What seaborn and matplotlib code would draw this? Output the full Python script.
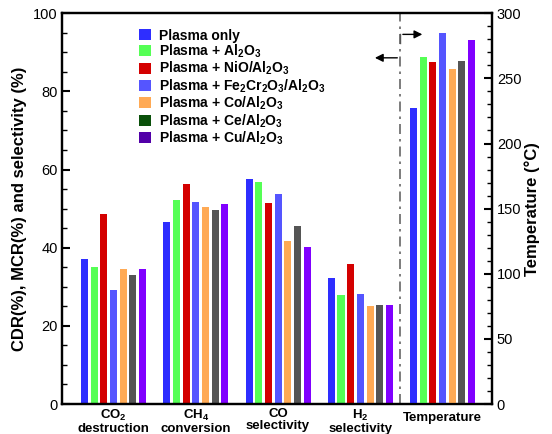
import matplotlib
matplotlib.use("Agg")
import matplotlib.pyplot as plt
from matplotlib.patches import Patch
from matplotlib.ticker import MultipleLocator
import matplotlib.transforms as mtransforms
import seaborn as sns
import pandas as pd

plt.rcParams['font.family'] = ['Liberation Sans', 'DejaVu Sans']
plt.rcParams['mathtext.fontset'] = 'custom'
plt.rcParams['mathtext.rm'] = 'Liberation Sans:bold'
plt.rcParams['mathtext.bf'] = 'Liberation Sans:bold'
plt.rcParams['mathtext.it'] = 'Liberation Sans:bold'
plt.rcParams['mathtext.default'] = 'rm'

groups = ['CO$_2$\ndestruction', 'CH$_4$\nconversion', 'CO\nselectivity',
          'H$_2$\nselectivity', 'Temperature']
catalysts = ['Plasma only', 'Plasma + Al$_2$O$_3$', 'Plasma + NiO/Al$_2$O$_3$',
             'Plasma + Fe$_2$Cr$_2$O$_3$/Al$_2$O$_3$', 'Plasma + Co/Al$_2$O$_3$',
             'Plasma + Ce/Al$_2$O$_3$', 'Plasma + Cu/Al$_2$O$_3$']
bar_colors = ['#2e2eff', '#55ff55', '#d40000', '#5555ff', '#ffaa55', '#555555', '#8000ff']
legend_colors = ['#2e2eff', '#55ff55', '#d40000', '#5555ff', '#ffaa55', '#0a500a', '#5200a8']

co2_destruction = [37.1, 35.1, 48.6, 29.2, 34.6, 33.1, 34.6]
ch4_conversion = [46.6, 52.3, 56.3, 51.6, 50.3, 49.6, 51.1]
co_selectivity = [57.6, 56.8, 51.5, 53.8, 41.6, 45.6, 40.3]
h2_selectivity = [32.3, 28.0, 35.9, 28.2, 25.2, 25.4, 25.4]
temperature = [227, 266.7, 262.9, 285, 257.5, 263.6, 279.7]

rows = []
for g, vals in zip(groups[:4], [co2_destruction, ch4_conversion, co_selectivity, h2_selectivity]):
    for c, v in zip(catalysts, vals):
        rows.append({'group': g, 'catalyst': c, 'value': v})
df_left = pd.DataFrame(rows)
df_temp = pd.DataFrame({'group': groups[4], 'catalyst': catalysts, 'value': temperature})

palette = dict(zip(catalysts, bar_colors))

fig = plt.figure(figsize=(5.52, 4.34), dpi=100)
ax = fig.add_axes([0.1132, 0.0691, 0.7781, 0.9003])
ax2 = ax.twinx()

common = dict(x='group', y='value', hue='catalyst', order=groups, hue_order=catalysts,
              palette=palette, width=0.823, gap=0.276, legend=False, saturation=1,
              linewidth=0, errorbar=None)
sns.barplot(data=df_left, ax=ax, **common)
sns.barplot(data=df_temp, ax=ax2, **common)

for a in (ax, ax2):
    a.set_xlim(-0.62, 4.60)

ax.set_ylim(0, 100)
ax.yaxis.set_major_locator(MultipleLocator(20))
ax.yaxis.set_minor_locator(MultipleLocator(5))
ax2.set_ylim(0, 300)
ax2.yaxis.set_major_locator(MultipleLocator(50))
ax2.yaxis.set_minor_locator(MultipleLocator(10))

ax.tick_params(axis='y', which='major', direction='in', length=6, width=1.5, labelsize=10.5)
ax.tick_params(axis='y', which='minor', direction='in', length=3.5, width=1)
ax2.tick_params(axis='y', which='major', direction='in', length=6, width=1.5, labelsize=10.5)
ax2.tick_params(axis='y', which='minor', direction='in', length=3.5, width=1)
ax.tick_params(axis='x', length=0, labelsize=9.5, pad=3)
ax2.tick_params(axis='x', length=0)

# x tick labels: keep first four via the axis, place "Temperature" centred vertically
ax.set_xticks(range(len(groups)))
ax.set_xticklabels(groups[:4] + [''])
for lbl in ax.get_xticklabels():
    lbl.set_fontweight('bold')
    lbl.set_linespacing(0.95)
trans = mtransforms.blended_transform_factory(ax.transData, ax.transAxes)
ax.text(4, -0.036, groups[4], transform=trans, ha='center', va='center',
        fontsize=9.5, fontweight='bold')

for a in (ax, ax2):
    for s in a.spines.values():
        s.set_linewidth(1.6)

ax.set_xlabel('')
ax2.set_xlabel('')
ax.set_ylabel('CDR(%), MCR(%) and selectivity (%)', fontsize=12, fontweight='bold', labelpad=4)
ax2.set_ylabel('Temperature (°C)', fontsize=12, fontweight='bold', labelpad=2)

# separator line and arrows
ax.axvline(3.483, color='#666666', linestyle=(0, (6, 3, 1.5, 3)), linewidth=1.2)
ax.annotate('', xy=(3.143, 88.6), xytext=(3.483, 88.6),
            arrowprops=dict(arrowstyle='-|>', color='black', lw=1, mutation_scale=12))
ax.plot([3.483, 3.483], [92.5, 94.6], color='#555555', lw=1)
ax.annotate('', xy=(3.787, 94.6), xytext=(3.483, 94.6),
            arrowprops=dict(arrowstyle='-|>', color='black', lw=1, mutation_scale=12))

handles = [Patch(facecolor=c, edgecolor='none', label=l) for c, l in zip(legend_colors, catalysts)]
leg = ax.legend(handles=handles, loc='upper left', bbox_to_anchor=(0.166, 0.975), frameon=False,
                prop={'weight': 'bold', 'size': 10}, handlelength=0.84, handleheight=0.84,
                handletextpad=0.6, labelspacing=0.0, borderaxespad=0)

fig.savefig('out.png', dpi=100)
